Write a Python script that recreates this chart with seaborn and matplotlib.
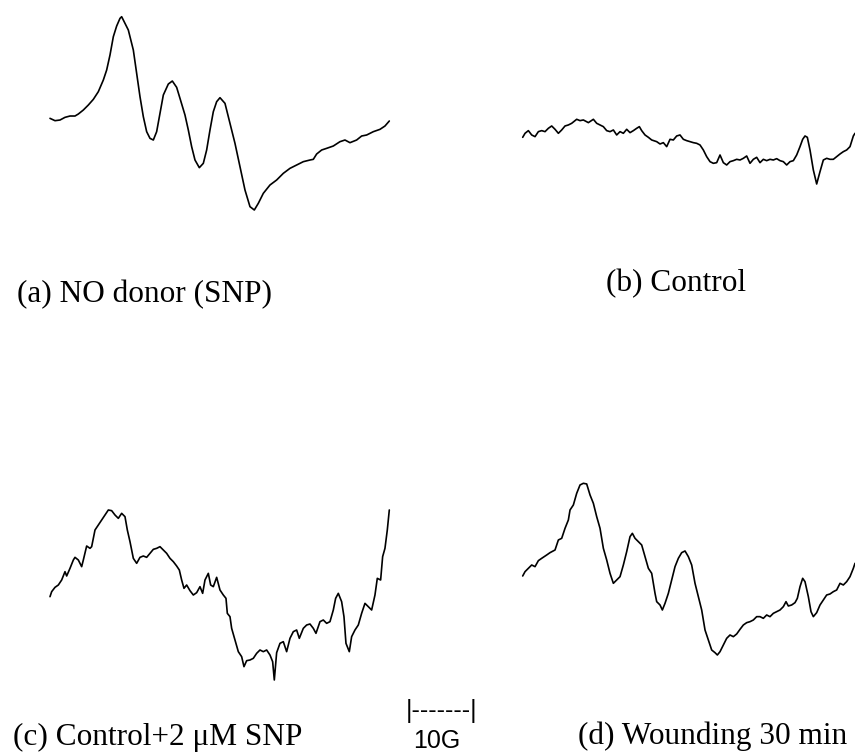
import numpy as np
import pandas as pd
import matplotlib
matplotlib.use("Agg")
import matplotlib.pyplot as plt
import seaborn as sns

# EPR spectra: field sweep position (arbitrary sweep units) and signal height (a.u.)
sweep_a = [30, 45, 60, 75, 90, 105, 115, 130, 145, 160, 175, 190, 200, 210, 220, 230, 240, 245,
           255, 265, 280, 290, 300, 310, 320, 330, 340, 350, 360, 370, 385, 397, 410, 420, 435,
           445, 455, 465, 478, 490, 500, 510, 520, 530, 540, 555, 570, 585, 600, 615, 630, 643,
           655, 670, 690, 710, 730, 750, 770, 790, 810, 820, 830, 845, 860, 880, 900, 915, 930,
           950, 965, 980, 1000, 1020, 1035, 1048]
signal_a = [345, 338, 340, 348, 352, 352, 358, 370, 385, 402, 425, 460, 490, 535, 590, 622, 645, 650,
            630, 610, 550, 480, 410, 350, 305, 285, 280, 305, 360, 415, 448, 457, 438, 405, 355,
            310, 260, 220, 197, 210, 250, 310, 365, 395, 407, 390, 330, 270, 200, 130, 80, 70,
            90, 120, 145, 160, 180, 195, 205, 215, 220, 222, 238, 250, 255, 262, 275, 280, 272,
            280, 292, 295, 305, 312, 322, 337]

sweep_b = [38, 45, 55, 65, 75, 85, 95, 105, 115, 125, 135, 145, 155, 165, 175, 185, 200, 210, 220,
           235, 250, 260, 270, 280, 290, 300, 310, 320, 330, 340, 350, 360, 370, 380, 388, 395,
           405, 415, 425, 440, 450, 460, 470, 480, 490, 500, 510, 520, 530, 540, 550, 560, 570,
           580, 590, 600, 610, 620, 630, 640, 650, 660, 670, 680, 690, 700, 710, 720, 730, 740,
           750, 760, 770, 780, 790, 800, 810, 820, 830, 840, 850, 860, 870, 878, 885, 892, 900,
           910, 920, 930, 940, 950, 960, 970, 980, 990, 1000, 1010, 1020, 1030, 1035]
signal_b = [188, 200, 208, 195, 190, 205, 208, 205, 215, 222, 212, 200, 210, 222, 225, 230, 242, 238, 240,
            232, 242, 230, 225, 220, 208, 205, 210, 195, 205, 200, 212, 202, 208, 215, 220, 208,
            195, 188, 180, 175, 168, 172, 160, 182, 180, 192, 195, 182, 178, 175, 172, 170, 165,
            150, 130, 115, 110, 112, 135, 112, 105, 115, 118, 122, 120, 125, 132, 110, 122, 128,
            112, 122, 118, 122, 120, 124, 118, 115, 105, 115, 118, 135, 160, 182, 192, 188, 150,
            90, 48, 85, 120, 125, 122, 122, 130, 138, 145, 150, 160, 192, 200]

sweep_c = [30, 35, 45, 55, 65, 75, 80, 90, 100, 105, 115, 125, 130, 140, 150, 155, 165, 175, 185,
           195, 205, 215, 225, 235, 245, 255, 262, 270, 280, 290, 300, 310, 320, 330, 340, 350,
           360, 370, 380, 390, 400, 410, 418, 425, 432, 440, 450, 460, 470, 480, 488, 495, 505,
           512, 520, 530, 540, 550, 558, 562, 570, 575, 585, 595, 605, 612, 620, 630, 640, 650,
           660, 670, 680, 690, 698, 703, 710, 720, 730, 740, 750, 760, 770, 778, 790, 800, 810,
           820, 828, 840, 850, 860, 870, 880, 887, 895, 905, 912, 918, 928, 935, 945, 955, 965,
           975, 985, 995, 1005, 1012, 1022, 1028, 1035, 1042, 1048]
signal_c = [320, 335, 348, 355, 370, 395, 382, 405, 430, 438, 430, 410, 430, 472, 465, 470, 520, 535, 550,
            565, 580, 578, 565, 555, 570, 560, 520, 485, 435, 420, 438, 442, 438, 450, 462, 465,
            470, 460, 450, 435, 425, 412, 400, 370, 345, 355, 338, 325, 332, 350, 330, 370, 390,
            355, 350, 378, 340, 325, 315, 270, 260, 225, 190, 155, 140, 110, 128, 130, 135, 150,
            160, 155, 160, 145, 125, 70, 152, 180, 185, 155, 195, 215, 220, 195, 225, 235, 238,
            225, 210, 245, 250, 240, 245, 280, 315, 330, 305, 260, 180, 155, 200, 220, 235, 270,
            300, 290, 280, 325, 375, 370, 440, 465, 520, 580]

sweep_d = [38, 45, 55, 65, 75, 85, 95, 110, 120, 135, 145, 155, 165, 175, 180, 190, 200, 210, 220,
           230, 240, 250, 260, 270, 280, 290, 300, 310, 320, 330, 340, 350, 360, 367, 375, 385,
           395, 405, 415, 425, 435, 440, 450, 457, 465, 475, 485, 495, 505, 515, 525, 535, 545,
           555, 565, 575, 585, 595, 605, 615, 622, 630, 640, 650, 660, 670, 680, 690, 700, 710,
           720, 730, 740, 750, 760, 770, 780, 790, 800, 810, 820, 828, 835, 845, 855, 862, 870,
           878, 885, 895, 903, 910, 920, 930, 940, 950, 960, 970, 980, 990, 1000, 1010, 1020,
           1030, 1035]
signal_d = [282, 295, 305, 315, 310, 328, 335, 345, 352, 360, 390, 395, 425, 450, 480, 495, 530, 555, 560,
            558, 525, 500, 460, 425, 365, 330, 290, 260, 270, 280, 315, 355, 400, 410, 395, 385,
            375, 340, 305, 290, 230, 205, 195, 180, 200, 230, 270, 310, 335, 352, 357, 340, 315,
            260, 220, 180, 120, 90, 60, 52, 45, 55, 75, 95, 105, 100, 108, 122, 135, 142,
            145, 150, 160, 160, 155, 165, 160, 170, 175, 180, 190, 205, 192, 195, 202, 215, 250,
            275, 265, 220, 175, 160, 172, 195, 210, 225, 228, 235, 240, 260, 255, 265, 280,
            305, 320]

labels = ["(a) NO donor (SNP)", "(b) Control", "(c) Control+2 \u03bcM SNP", "(d) Wounding 30 min"]
scale_bar_text = "|-------|"
scale_bar_label = "10G"

W, H = 855, 753
sns.set_theme(style="white")
plt.rcParams["font.family"] = ["Liberation Serif", "DejaVu Serif"]

fig = plt.figure(figsize=(W / 100, H / 100), dpi=100)
fig.patch.set_facecolor("white")


def px_rect(x0, y0, x1, y1):
    """Axes rectangle from pixel bounds measured from the top-left corner."""
    return [x0 / W, 1 - y1 / H, (x1 - x0) / W, (y1 - y0) / H]


panels = [
    (sweep_a, signal_a, (50, 16.7, 389.3, 210)),
    (sweep_b, signal_b, (522.7, 119.3, 855, 184)),
    (sweep_c, signal_c, (50, 510, 389.3, 680)),
    (sweep_d, signal_d, (522.7, 483.3, 855, 655)),
]

for sweep, signal, bounds in panels:
    ax = fig.add_axes(px_rect(*bounds))
    df = pd.DataFrame({"sweep": sweep, "signal": signal})
    sns.lineplot(data=df, x="sweep", y="signal", ax=ax, color="black",
                 linewidth=1.2, estimator=None, sort=False)
    ax.set_xlim(min(sweep), max(sweep))
    ax.set_ylim(min(signal), max(signal))
    for line in ax.lines:
        line.set_clip_on(False)
    ax.set_axis_off()

# panel captions (centre x, baseline y in pixels)
label_pos = [(144.5, 302), (676.5, 291), (158, 745), (712.5, 744)]
for text, (cx, by) in zip(labels, label_pos):
    fig.text(cx / W, 1 - by / H, text, ha="center", va="baseline",
             fontsize=22.5, family=["Liberation Serif", "DejaVu Serif"], color="black")

# field scale bar
fig.text(406 / W, 1 - 718 / H, scale_bar_text, ha="left", va="baseline",
         fontsize=18, family=["Liberation Sans", "DejaVu Sans"], color="black")
fig.text(413 / W, 1 - 748 / H, scale_bar_label, ha="left", va="baseline",
         fontsize=18, family=["Liberation Sans", "DejaVu Sans"], color="black")

fig.savefig("out.png", dpi=100, facecolor="white")
